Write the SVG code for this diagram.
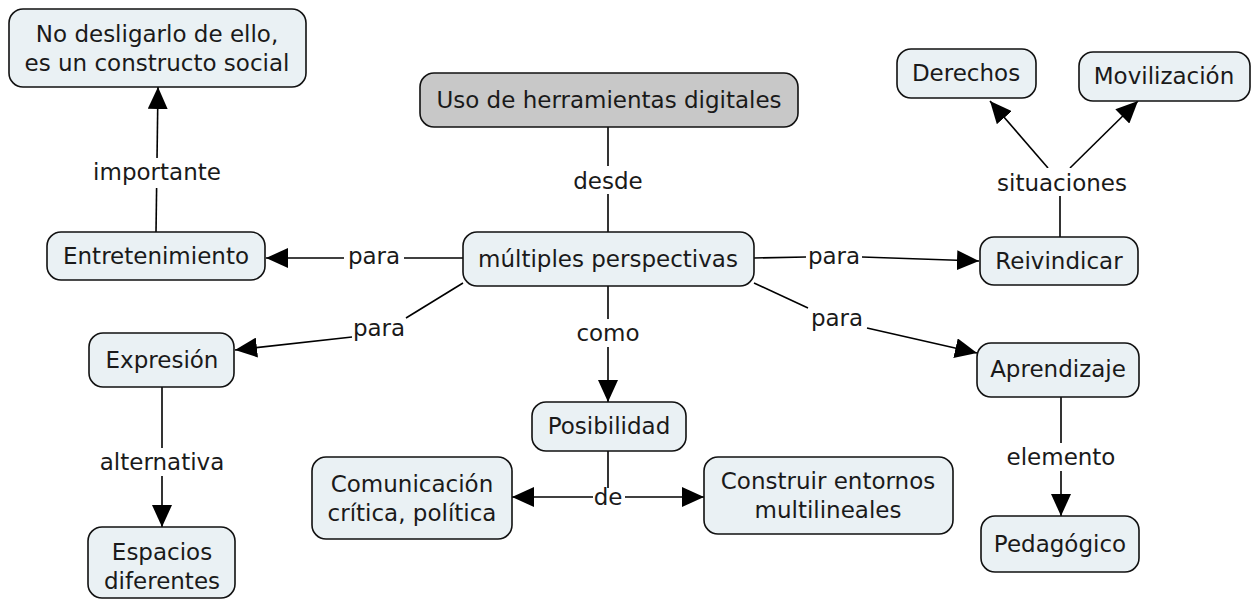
<svg xmlns="http://www.w3.org/2000/svg" width="1252" height="600" viewBox="0 0 1252 600">
<defs>
<marker id="ah" markerWidth="22" markerHeight="20" refX="22" refY="10" orient="auto" markerUnits="userSpaceOnUse">
<path d="M0,0 L22,10 L0,20 Z" fill="#000"/>
</marker>
<style>
.n rect{fill:#eaf1f4;stroke:#111;stroke-width:1.6}
.n.g rect{fill:#c8c8c8}
text{font-family:"DejaVu Sans","Verdana",sans-serif;font-size:23px;fill:#1a1a1a;text-anchor:middle}
.c line,.c path{stroke:#000;stroke-width:1.6;fill:none}
.lbl{fill:#fff}
</style>
</defs>
<rect width="1252" height="600" fill="#fff"/>
<g class="c" id="connectors">
<line x1="608" y1="127" x2="608" y2="232"/>
<line x1="463" y1="258" x2="266" y2="258" marker-end="url(#ah)"/>
<line x1="156" y1="232" x2="158" y2="87" marker-end="url(#ah)"/>
<line x1="754" y1="258" x2="806" y2="257"/>
<line x1="862" y1="257" x2="979" y2="261" marker-end="url(#ah)"/>
<line x1="1060" y1="237" x2="1060" y2="192"/>
<line x1="1048" y1="168" x2="990" y2="101" marker-end="url(#ah)"/>
<line x1="1070" y1="168" x2="1138" y2="101" marker-end="url(#ah)"/>
<line x1="463" y1="283" x2="406" y2="318"/>
<line x1="352" y1="337" x2="235" y2="350" marker-end="url(#ah)"/>
<line x1="162" y1="387" x2="162" y2="527" marker-end="url(#ah)"/>
<line x1="608" y1="286" x2="608" y2="402" marker-end="url(#ah)"/>
<line x1="608" y1="451" x2="608" y2="488"/>
<line x1="593" y1="497" x2="512" y2="497" marker-end="url(#ah)"/>
<line x1="625" y1="497" x2="704" y2="497" marker-end="url(#ah)"/>
<line x1="754" y1="283" x2="808" y2="308"/>
<line x1="867" y1="328" x2="977" y2="353" marker-end="url(#ah)"/>
<line x1="1061" y1="397" x2="1061" y2="516" marker-end="url(#ah)"/>
<rect class="lbl" x="566" y="166" width="84" height="28"/>
<text x="608" y="189">desde</text>
<rect class="lbl" x="344" y="243" width="60" height="26"/>
<text x="374" y="264">para</text>
<rect class="lbl" x="84" y="158" width="146" height="30"/>
<text x="157" y="180">importante</text>
<text x="834" y="264">para</text>
<rect class="lbl" x="988" y="168" width="148" height="28"/>
<text x="1062" y="191">situaciones</text>
<text x="379" y="336">para</text>
<rect class="lbl" x="90" y="448" width="144" height="28"/>
<text x="162" y="470">alternativa</text>
<rect class="lbl" x="571" y="319" width="74" height="28"/>
<text x="608" y="341">como</text>
<text x="608" y="505">de</text>
<text x="837" y="326">para</text>
<rect class="lbl" x="996" y="443" width="130" height="28"/>
<text x="1061" y="465">elemento</text>
</g>
<g class="n" id="n-nodesligarlo"><rect x="9" y="9" width="297" height="78" rx="14"/><text x="157" y="42">No desligarlo de ello,</text><text x="157" y="71">es un constructo social</text></g>
<g class="n g" id="n-uso"><rect x="420" y="73" width="378" height="54" rx="14"/><text x="609" y="108">Uso de herramientas digitales</text></g>
<g class="n" id="n-multiples"><rect x="463" y="232" width="291" height="54" rx="14"/><text x="608" y="267">múltiples perspectivas</text></g>
<g class="n" id="n-entretenimiento"><rect x="47" y="232" width="218" height="48" rx="14"/><text x="156" y="264">Entretenimiento</text></g>
<g class="n" id="n-derechos"><rect x="897" y="49" width="139" height="49" rx="14"/><text x="966" y="81">Derechos</text></g>
<g class="n" id="n-movilizacion"><rect x="1079" y="52" width="171" height="49" rx="14"/><text x="1164" y="84">Movilización</text></g>
<g class="n" id="n-reivindicar"><rect x="980" y="237" width="158" height="48" rx="14"/><text x="1059" y="269">Reivindicar</text></g>
<g class="n" id="n-expresion"><rect x="89" y="333" width="145" height="54" rx="14"/><text x="162" y="368">Expresión</text></g>
<g class="n" id="n-espacios"><rect x="88" y="527" width="147" height="71" rx="14"/><text x="162" y="560">Espacios</text><text x="162" y="589">diferentes</text></g>
<g class="n" id="n-comunicacion"><rect x="312" y="457" width="200" height="82" rx="14"/><text x="412" y="492">Comunicación</text><text x="412" y="521">crítica, política</text></g>
<g class="n" id="n-posibilidad"><rect x="532" y="402" width="154" height="49" rx="14"/><text x="609" y="434">Posibilidad</text></g>
<g class="n" id="n-construir"><rect x="704" y="457" width="249" height="77" rx="14"/><text x="828" y="489">Construir entornos</text><text x="828" y="518">multilineales</text></g>
<g class="n" id="n-aprendizaje"><rect x="977" y="343" width="162" height="54" rx="14"/><text x="1058" y="377">Aprendizaje</text></g>
<g class="n" id="n-pedagogico"><rect x="981" y="516" width="158" height="56" rx="14"/><text x="1060" y="552">Pedagógico</text></g>
</svg>
